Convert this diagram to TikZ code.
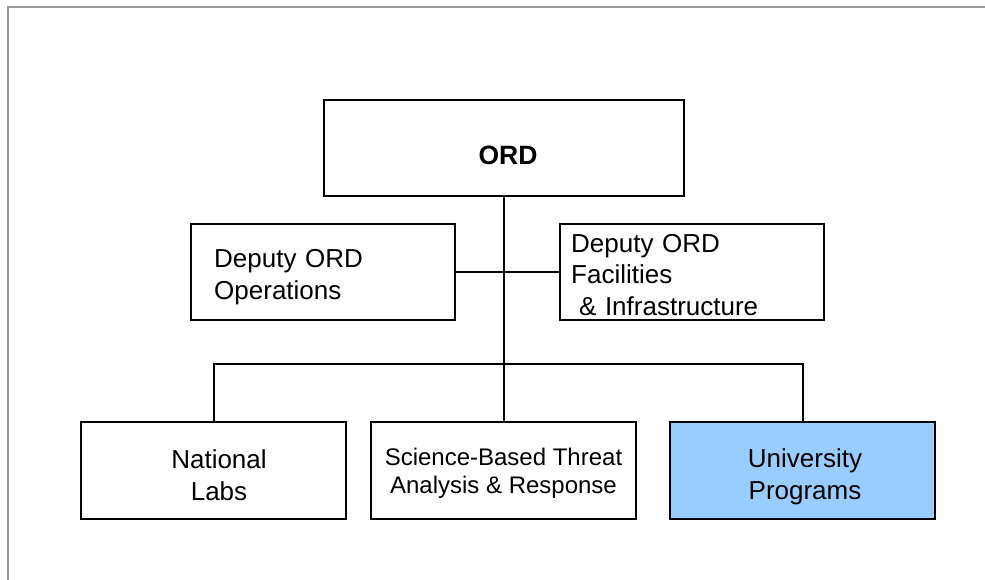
\documentclass[tikz,border=0pt]{standalone}
\usepackage{fontspec}
\setmainfont{Liberation Sans}
\definecolor{unifill}{HTML}{99CCFF}
\definecolor{framegray}{HTML}{999999}
\begin{document}
\begin{tikzpicture}[x=1pt,y=-1pt,
  box/.style={draw=black, line width=2pt, minimum width=264pt, minimum height=96pt, inner sep=0pt},
  lowbox/.style={box, minimum width=265pt, minimum height=97pt},
  label text/.style={inner sep=0pt, align=center, font=\fontsize{26}{32}\selectfont},
  link/.style={draw=black, line width=2pt},
  frame/.style={draw=framegray, line width=2.5pt}]
\useasboundingbox (0,0) rectangle (985,580);
% page frame (top and left edges only)
\draw[frame] (8,580) -- (8,7) -- (985,7);

% boxes
\node[box, minimum width=360pt] (ord) at (503.5,148) {};
\node[box] (ops) at (323,272) {};
\node[box] (fac) at (692,272) {};
\node[lowbox] (labs) at (213.5,470.5) {};
\node[lowbox] (sci) at (503.5,470.5) {};
\node[lowbox, fill=unifill] (univ) at (802.5,470.5) {};

% box texts
\node[label text, font=\fontsize{26.5}{30}\selectfont\bfseries] (ord-t) at (508,155) {ORD};
\node[label text, align=left, text width=218pt, anchor=west] (ops-t) at (214,277) {Deputy ORD\\Operations};
\node[label text, align=left, text width=242pt, anchor=west, font=\fontsize{26}{31.5}\selectfont] (fac-t) at (571,275)
  {Deputy ORD\\Facilities\\\hspace*{0.3em}\& Infrastructure};
\node[label text] (labs-t) at (219,475.5) {National\\Labs};
\node[label text, font=\fontsize{24}{28}\selectfont] (sci-t) at (503.5,473.5) {Science-Based Threat\\Analysis \& Response};
\node[label text] (univ-t) at (805,477) {University\\Programs};

% connectors
\coordinate (bus) at (503.5,364);
\draw[link] (ord.south) -- (sci.north);
\draw[link] (ops.east) -- (fac.west);
\draw[link] (labs.north) -- (labs.north |- bus) -- (univ.north |- bus) -- (univ.north);
\end{tikzpicture}
\end{document}
